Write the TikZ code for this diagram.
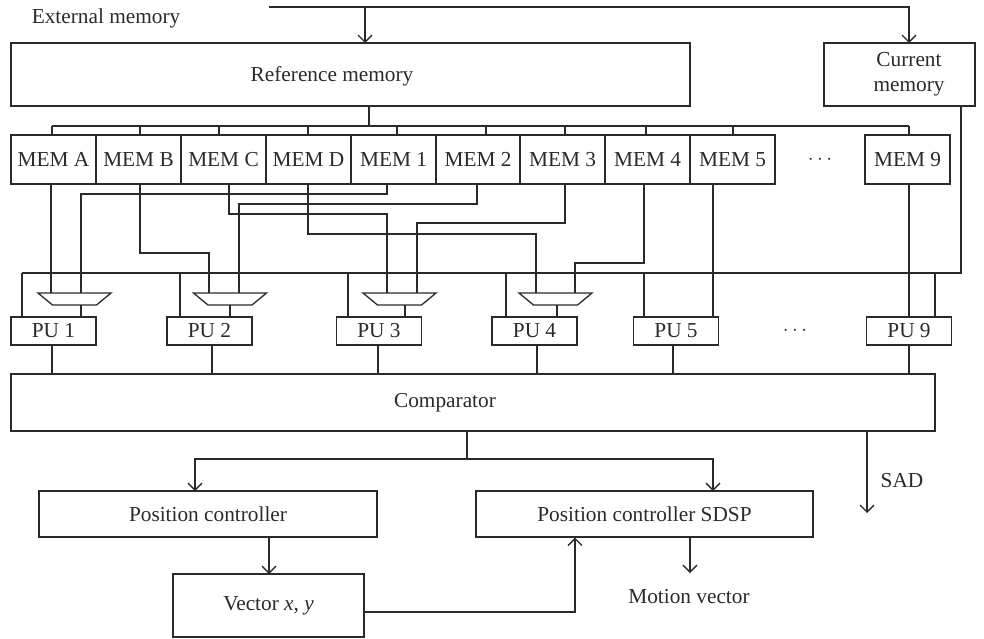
\documentclass[tikz,border=0pt]{standalone}
\usepackage{fontspec}
\setmainfont{Liberation Serif}
\usetikzlibrary{arrows.meta,calc}
\definecolor{ink}{HTML}{2A2A2A}
\begin{document}
\begin{tikzpicture}[x=1pt,y=-1pt,
  every node/.style={font=\fontsize{21.3}{25}\selectfont, text=ink},
  box/.style={draw=ink, line width=1.3pt, rectangle, inner sep=0pt},
  mem/.style={box, minimum width=85, minimum height=49},
  pu/.style={box, minimum width=85, minimum height=28},
  lbl/.style={inner sep=0pt},
  wire/.style={draw=ink, line width=1.3pt},
  arr/.style={wire, -{Straight Barb[length=7pt,width=14pt]}},
  muxpic/.pic={\draw[wire] (-36.5,-6) -- (36.5,-6) -- (22,6) -- (-22,6) -- cycle;
               \coordinate (-top) at (0,-6); \coordinate (-bot) at (0,6);}
]
\useasboundingbox (0,0) rectangle (984,638);

% labels
\node[lbl] (ext) at (106,18) {External memory};

% memories
\node[box, minimum width=679, minimum height=63] (refmem) at (350.5,74.5) {};
\node[lbl] (reflbl) at (332,76) {Reference memory};
\node[box, minimum width=151, minimum height=63] (curmem) at (899.5,74.5) {};
\node[lbl, align=center] (curlbl) at (909,74.5) {Current\\memory};

% input from external memory
\coordinate (extL) at (269,7);
\draw[arr] (extL) -| (909,43);
\draw[arr] (365,7) -- (365,43);

% MEM boxes
\node[mem] (memA) at (53.5,159.5) {MEM A};
\node[mem] (memB) at (138.5,159.5) {MEM B};
\node[mem] (memC) at (223.5,159.5) {MEM C};
\node[mem] (memD) at (308.5,159.5) {MEM D};
\node[mem] (mem1) at (393.5,159.5) {MEM 1};
\node[mem] (mem2) at (478,159.5) {MEM 2};
\node[mem] (mem3) at (562.5,159.5) {MEM 3};
\node[mem] (mem4) at (647.5,159.5) {MEM 4};
\node[mem] (mem5) at (732.5,159.5) {MEM 5};
\node[lbl] (mdots) at (820,160) {$\cdots$};
\node[mem] (mem9) at (907.5,159.5) {MEM 9};

% reference memory bus
\draw[wire] ([xshift=18.5pt]refmem.south) -- (369,126);
\draw[wire] (52,126) -- (909,126);
\foreach \x in {52,140,219,308,397,486,565,646,733,909}
  \draw[wire] (\x,126) -- (\x,135);

% muxes
\pic (mux1) at (74.5,299) {muxpic};
\pic (mux2) at (230,299) {muxpic};
\pic (mux3) at (399.5,299) {muxpic};
\pic (mux4) at (555.5,299) {muxpic};

% PU boxes
\node[pu] (pu1) at (53.5,331) {PU 1};
\node[pu] (pu2) at (209.5,331) {PU 2};
\node[pu] (pu3) at (379,331) {PU 3};
\node[pu] (pu4) at (534.5,331) {PU 4};
\node[pu] (pu5) at (676,331) {PU 5};
\node[lbl] (pdots) at (795,331) {$\cdots$};
\node[pu] (pu9) at (909,331) {PU 9};

% MEM taps and mux inputs
\coordinate (tA) at (51,184);  \coordinate (m1a) at (51,293);
\coordinate (t1) at (387,184); \coordinate (m1b) at (81,293);
\coordinate (tB) at (140,184); \coordinate (m2a) at (209,293);
\coordinate (t2) at (477,184); \coordinate (m2b) at (239,293);
\coordinate (tC) at (229,184); \coordinate (m3a) at (387,293);
\coordinate (t3) at (565,184); \coordinate (m3b) at (417,293);
\coordinate (tD) at (308,184); \coordinate (m4a) at (536,293);
\coordinate (t4) at (644,184); \coordinate (m4b) at (575,293);
\coordinate (t5) at (713,184); \coordinate (t9) at (909,184);

\draw[wire] (tA) -- (m1a);
\draw[wire] (t1) -- ++(0,10) -| (m1b);
\draw[wire] (tB) -- ++(0,69) -| (m2a);
\draw[wire] (t2) -- ++(0,20) -| (m2b);
\draw[wire] (tC) -- ++(0,30) -| (m3a);
\draw[wire] (t3) -- ++(0,39) -| (m3b);
\draw[wire] (tD) -- ++(0,50) -| (m4a);
\draw[wire] (t4) -- ++(0,79) -| (m4b);
\draw[wire] (t5) -- (713,317);
\draw[wire] (t9) -- (909,317);

% mux outputs
\draw[wire] (81,305) -- (81,317);
\draw[wire] (mux2-bot) -- (230,317);
\draw[wire] (405,305) -- (405,317);
\draw[wire] (557,305) -- (557,317);

% current memory bus
\draw[wire] ([xshift=61.5pt]curmem.south) -- (961,273) -- (22,273);
\foreach \x in {22,180,348,506,644,935}
  \draw[wire] (\x,273) -- (\x,317);

% comparator
\node[box, minimum width=924, minimum height=57] (cmp) at (473,402.5) {};
\node[lbl] (cmplbl) at (445,403) {Comparator};
\foreach \x in {52,212,378,537,673,909}
  \draw[wire] (\x,345) -- (\x,374);

% lower part
\node[box, minimum width=338, minimum height=46] (pc) at (208,514) {Position controller};
\node[box, minimum width=337, minimum height=46] (sdsp) at (644.5,514) {Position controller SDSP};
\node[box, minimum width=191, minimum height=63] (vec) at (268.5,605.5) {Vector \textit{x}, \textit{y}};

\draw[wire] (467,431) -- (467,459);
\draw[arr] (467,459) -| (195,491);
\draw[arr] (467,459) -| (713,491);
\draw[arr] (867,431) -- (867,513);
\node[lbl] (sad) at (902,481) {SAD};

\draw[arr] ([xshift=61pt]pc.south) -- (269,574);
\draw[arr] (vec.east |- 0,612) -| ([xshift=-69.5pt]sdsp.south);
\draw[arr] ([xshift=45.5pt]sdsp.south) -- (690,573);
\node[lbl] (mv) at (689,597) {Motion vector};
\end{tikzpicture}
\end{document}
